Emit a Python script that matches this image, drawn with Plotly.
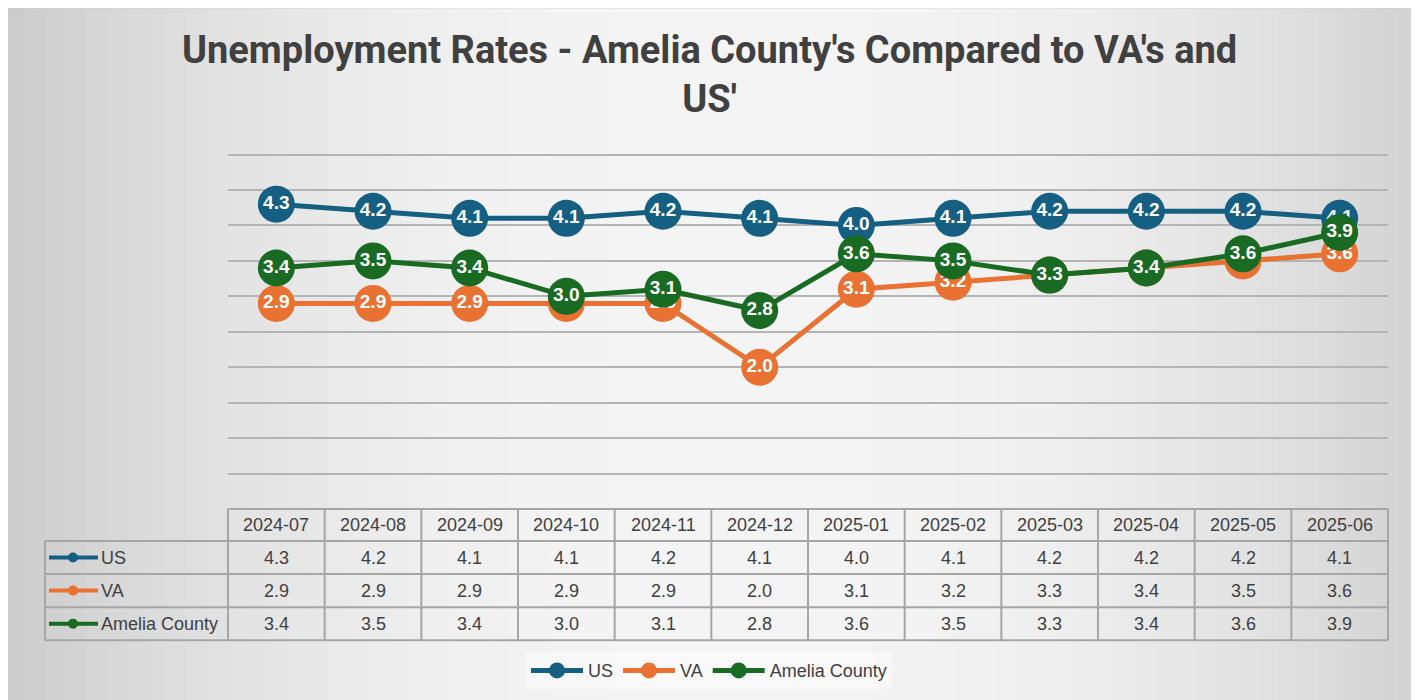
import plotly.graph_objects as go

months = ["2024-07", "2024-08", "2024-09", "2024-10", "2024-11", "2024-12",
          "2025-01", "2025-02", "2025-03", "2025-04", "2025-05", "2025-06"]
us = [4.3, 4.2, 4.1, 4.1, 4.2, 4.1, 4.0, 4.1, 4.2, 4.2, 4.2, 4.1]
va = [2.9, 2.9, 2.9, 2.9, 2.9, 2.0, 3.1, 3.2, 3.3, 3.4, 3.5, 3.6]
amelia = [3.4, 3.5, 3.4, 3.0, 3.1, 2.8, 3.6, 3.5, 3.3, 3.4, 3.6, 3.9]
series_names = ["US", "VA", "Amelia County"]
series_values = [us, va, amelia]
colors = ["#156082", "#E97132", "#196B24"]
title_text = "Unemployment Rates - Amelia County's Compared to VA's and<br>US'"

# page body has an 8px margin, so figure pixel = screenshot pixel - 8
OFF = 8
W, H = 1419 - OFF, 700 - OFF
YMAX = 5.05
L, R = 228 - OFF, 1388 - OFF
B = 509 - OFF
T = B - (B - (155 - OFF)) * YMAX / 5.0
PW, PH = R - L, B - T


def px(x):  # screenshot x -> paper
    return (x - OFF - L) / PW


def py(y):  # screenshot y -> paper
    return (B - (y - OFF)) / PH


fig = go.Figure()
for name, vals, c in zip(series_names, series_values, colors):
    fig.add_trace(go.Scatter(
        x=months, y=vals, name=name, mode="lines+markers+text",
        line=dict(color=c, width=5),
        marker=dict(size=37, color=c),
        text=[f"{v:.1f}" for v in vals], textposition="middle center",
        textfont=dict(family="Liberation Sans", size=19, color="white", weight="bold"),
        cliponaxis=False,
    ))

shapes = []
# background gradient (horizontal)
n = 70
x0p, x1p = 5, 1419
for i in range(n):
    a = x0p + (x1p - x0p) * i / n
    b = x0p + (x1p - x0p) * (i + 1) / n + 1
    t = (i + 0.5) / n
    d = abs(t - 0.52) * 2
    v = int(245 - 38 * d ** 2.2)
    shapes.append(dict(type="rect", xref="paper", yref="paper", layer="below",
                       x0=px(a), x1=px(b), y0=py(700), y1=py(8),
                       fillcolor=f"rgb({v},{v},{v})", line=dict(width=0)))
shapes.append(dict(type="line", xref="paper", yref="paper", layer="below",
                   x0=px(5), x1=px(1419), y0=py(8), y1=py(8),
                   line=dict(color="#c4c4c4", width=2)))

# table
border = dict(color="#a6a6a6", width=2)
row_y = [509, 541, 574, 607, 640]
shapes.append(dict(type="line", xref="paper", yref="paper", x0=0, x1=1,
                   y0=py(row_y[0]), y1=py(row_y[0]), line=border))
for yy in row_y[1:]:
    shapes.append(dict(type="line", xref="paper", yref="paper", x0=px(45), x1=1,
                       y0=py(yy), y1=py(yy), line=border))
for i in range(len(months) + 1):
    xx = i / len(months)
    shapes.append(dict(type="line", xref="paper", yref="paper", x0=xx, x1=xx,
                       y0=py(row_y[0]), y1=py(row_y[-1]), line=border))
shapes.append(dict(type="line", xref="paper", yref="paper", x0=px(45), x1=px(45),
                   y0=py(row_y[1]), y1=py(row_y[-1]), line=border))

annotations = []
tfont = dict(family="Liberation Sans", size=18, color="#404040")
for m in months:
    annotations.append(dict(x=m, xref="x", y=py((row_y[0] + row_y[1]) / 2), yref="paper",
                            xanchor="center", yanchor="middle",
                            text=m, showarrow=False, font=tfont))
for r, (name, vals, c) in enumerate(zip(series_names, series_values, colors)):
    yc = (row_y[r + 1] + row_y[r + 2]) / 2
    for m, v in zip(months, vals):
        annotations.append(dict(x=m, xref="x", y=py(yc), yref="paper",
                                xanchor="center", yanchor="middle",
                                text=f"{v:.1f}", showarrow=False, font=tfont))
    shapes.append(dict(type="line", xref="paper", yref="paper", x0=px(49), x1=px(98),
                       y0=py(yc), y1=py(yc), line=dict(color=c, width=4)))
    shapes.append(dict(type="circle", xref="paper", yref="paper", x0=px(68), x1=px(78),
                       y0=py(yc + 5), y1=py(yc - 5), fillcolor=c, line=dict(width=0)))
    annotations.append(dict(x=px(99), xref="paper", y=py(yc), yref="paper",
                            xanchor="left", yanchor="middle",
                            text=name, showarrow=False,
                            font=dict(family="Liberation Sans", size=18, color="#404040")))

annotations.append(dict(x=px(709), xref="paper", y=py(75), yref="paper",
                        xanchor="center", yanchor="middle", showarrow=False,
                        text=title_text,
                        font=dict(family="Roboto", size=38, color="#404040", weight="bold")))

fig.update_layout(
    width=W, height=H,
    margin=dict(l=L, r=W - R, t=T, b=H - B, pad=0, autoexpand=False),
    paper_bgcolor="white", plot_bgcolor="rgba(0,0,0,0)",
    xaxis=dict(type="category", range=[-0.5, 11.5], showticklabels=False, showgrid=False,
               zeroline=False, showline=False, ticks=""),
    yaxis=dict(range=[0, YMAX], dtick=0.5, showticklabels=False, showgrid=True,
               gridcolor="#b4b4b4", gridwidth=1.5, zeroline=False, showline=False),
    showlegend=True,
    legend=dict(orientation="h", x=px(709), xanchor="center", y=py(652), yanchor="top",
                bgcolor="rgba(255,255,255,0.45)",
                font=dict(family="Liberation Sans", size=18, color="#404040"),
                itemwidth=52, entrywidth=0),
    shapes=shapes, annotations=annotations,
)

fig.write_html("out.html")
